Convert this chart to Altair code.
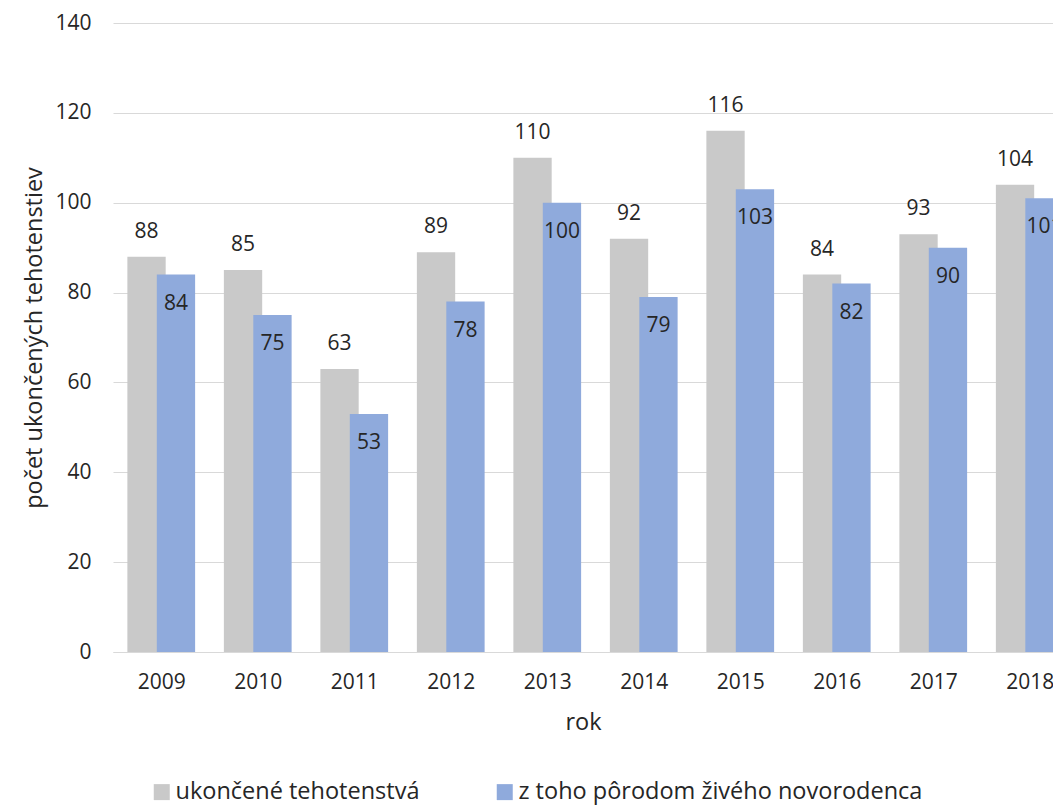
import altair as alt
import pandas as pd

# --- data ---
years = [2009, 2010, 2011, 2012, 2013, 2014, 2015, 2016, 2017, 2018]
ukoncene = [88, 85, 63, 89, 110, 92, 116, 84, 93, 104]
zivo_narodeni = [84, 75, 53, 78, 100, 79, 103, 82, 90, 101]
series_names = ["ukončené tehotenstvá", "z toho pôrodom živého novorodenca"]
y_ticks = [0, 20, 40, 60, 80, 100, 120, 140]

# --- style ---
colors = ["#C9C9C9", "#8FAADC"]
FONT = "Open Sans"
TEXT = "#262626"
FS_NUM = 21
FS_TXT = 23.5
X_TITLE = "rok"
Y_TITLE = "počet ukončených tehotenstiev"

rows = []
for i, (name, vals) in enumerate(zip(series_names, [ukoncene, zivo_narodeni])):
    for yr, v in zip(years, vals):
        rows.append({"rok": yr, "seria": name, "poradie": i, "hodnota": v})
df = pd.DataFrame(rows)

base = alt.Chart(df).transform_calculate(
    x1="datum.rok + (datum.poradie == 0 ? -0.351 : -0.046)",
    x2="datum.rok + (datum.poradie == 0 ? 0.046 : 0.351)",
    xc="datum.rok + (datum.poradie == 0 ? -0.1525 : 0.1525)",
)

xscale = alt.Scale(domain=[2008.5, 2018.241], nice=False, zero=False)
yscale = alt.Scale(domain=[0, 140], nice=False)

bars = base.mark_bar(clip=True).encode(
    x=alt.X(
        "x1:Q",
        scale=xscale,
        title=X_TITLE,
        axis=alt.Axis(
            values=years,
            format="d",
            grid=False,
            ticks=False,
            domainColor="#D9D9D9",
            labelPadding=19,
            titlePadding=18,
            labelFlush=False,
            labelOverlap=False,
        ),
    ),
    x2="x2:Q",
    y=alt.Y(
        "hodnota:Q",
        scale=yscale,
        stack=None,
        title=Y_TITLE,
        axis=alt.Axis(
            values=y_ticks,
            domain=False,
            ticks=False,
            gridColor="#D9D9D9",
            labelPadding=22,
            titlePadding=8,
        ),
    ),
    y2=alt.datum(0),
    color=alt.Color(
        "seria:N",
        scale=alt.Scale(domain=series_names, range=colors),
        legend=alt.Legend(
            title=None,
            orient="none",
            legendX=37,
            legendY=757,
            direction="horizontal",
            symbolType="square",
            symbolSize=256,
            symbolStrokeWidth=0,
            labelFont=FONT,
            labelFontSize=FS_TXT,
            labelColor=TEXT,
            labelOffset=2,
            labelLimit=1000,
            columnPadding=73,
            padding=0,
        ),
    ),
    order=alt.Order("poradie:Q"),
)

grey_text = base.transform_filter("datum.poradie == 0").mark_text(
    dy=-25, font=FONT, fontSize=FS_NUM, color=TEXT, baseline="middle"
).encode(
    x=alt.X("xc:Q", scale=xscale, title=X_TITLE),
    y=alt.Y("hodnota:Q", scale=yscale, title=Y_TITLE),
    text="hodnota:Q",
)

blue_text = base.transform_filter("datum.poradie == 1").mark_text(
    dy=29, font=FONT, fontSize=FS_NUM, color=TEXT, baseline="middle"
).encode(
    x=alt.X("xc:Q", scale=xscale, title=X_TITLE),
    y=alt.Y("hodnota:Q", scale=yscale, title=Y_TITLE),
    text="hodnota:Q",
)

chart = (
    alt.layer(bars, grey_text, blue_text)
    .properties(
        width=940,
        height=629,
        autosize=alt.AutoSizeParams(type="none"),
        padding={"left": 105, "top": 15, "right": 0, "bottom": 155},
    )
    .configure_view(stroke=None)
    .configure_axis(
        labelFont=FONT,
        labelFontSize=FS_NUM,
        labelColor=TEXT,
        titleFont=FONT,
        titleFontSize=FS_TXT,
        titleColor=TEXT,
        titleFontWeight="normal",
    )
)

chart.save("out.html", embed_options={"renderer": "svg", "actions": False})
